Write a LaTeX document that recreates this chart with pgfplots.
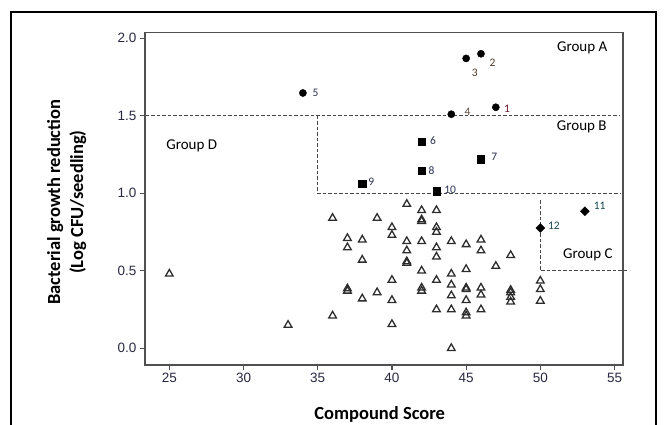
\documentclass[border=0pt]{standalone}
\usepackage{pgfplots}
\pgfplotsset{compat=1.18}
\usepackage{fontspec}
\setmainfont{Carlito}
\newfontfamily\tickfont{Liberation Sans}
\definecolor{axisgray}{RGB}{80,80,80}
\definecolor{ticktext}{RGB}{40,40,65}
\definecolor{dashgray}{RGB}{70,70,70}
\definecolor{trigray}{RGB}{45,45,45}
\definecolor{numdark}{RGB}{40,50,80}
\definecolor{numred}{RGB}{110,20,40}
\definecolor{numbrown}{RGB}{75,55,40}
\definecolor{numteal}{RGB}{25,70,75}

\pgfplotstableread{
x y
25 0.48
33 0.15
36 0.84
36 0.21
37 0.71
37 0.65
37 0.385
37 0.37
38 0.70
38 0.57
38 0.32
39 0.84
39 0.36
40 0.78
40 0.73
40 0.44
40 0.31
40 0.155
41 0.93
41 0.69
41 0.63
41 0.56
41 0.55
42 0.89
42 0.83
42 0.82
42 0.69
42 0.50
42 0.39
42 0.37
43 0.89
43 0.78
43 0.75
43 0.65
43 0.59
43 0.44
43 0.25
44 0.69
44 0.48
44 0.41
44 0.34
44 0.25
44 0.00
45 0.67
45 0.51
45 0.39
45 0.38
45 0.31
45 0.23
45 0.21
46 0.70
46 0.63
46 0.39
46 0.345
46 0.25
47 0.53
48 0.60
48 0.375
48 0.36
48 0.33
48 0.30
50 0.435
50 0.38
50 0.305
}\others

\begin{document}
\begin{tikzpicture}
\useasboundingbox (0,0) rectangle (664pt,425pt);
\draw[line width=1.5pt, black] (11pt,-2pt) -- (11pt,413pt) -- (656pt,413pt) -- (656pt,-2pt);
\begin{axis}[
  at={(145pt,60pt)}, anchor=south west,
  scale only axis, width=478pt, height=332.3pt,
  xmin=23.36, xmax=55.57, ymin=-0.108, ymax=2.036,
  xtick={25,30,...,55}, ytick={0,0.5,1,1.5,2},
  tick pos=left, tick align=outside,
  major tick length=5pt,
  axis line style={axisgray, line width=1.4pt},
  tick style={axisgray, line width=1.2pt},
  /pgf/number format/assume math mode=true,
  ticklabel style={font=\tickfont\fontsize{13.5}{15}\selectfont, text=ticktext},
  yticklabel style={/pgf/number format/.cd, fixed, fixed zerofill, precision=1},
  xlabel={Compound Score},
  xlabel style={font=\fontsize{18.5}{22}\selectfont\bfseries, at={(axis description cs:0.491,-0.1655)}, anchor=base},
  ylabel={Bacterial growth reduction\\(Log CFU/seedling)},
  ylabel style={font=\fontsize{18.5}{23}\selectfont\bfseries, align=center, at={(axis description cs:-0.164,0.49)}, anchor=center},
  clip=false,
]
% group boundaries
\addplot[dashgray, line width=0.9pt, dash pattern=on 3.5pt off 2pt, forget plot] coordinates {(23.4,1.5) (55.3,1.5)};
\addplot[dashgray, line width=0.9pt, dash pattern=on 3.5pt off 2pt, forget plot] coordinates {(35,1.5) (35,1.0) (55.45,1.0)};
\addplot[dashgray, line width=0.9pt, dash pattern=on 3.5pt off 2pt, forget plot] coordinates {(50,0.956) (50,0.5) (55.9,0.5)};
% other compounds
\addplot[only marks, mark=triangle, mark size=4.4pt, mark options={draw=trigray, line width=1.3pt}] table[x=x,y=y] {\others};
% group A
\addplot[only marks, mark=*, mark size=3.6pt, black] coordinates {(47,1.555) (46,1.90) (45,1.87) (44,1.51) (34,1.647)};
% group B
\addplot[only marks, mark=square*, mark size=3.6pt, black] coordinates {(42,1.335) (46,1.22) (42,1.146) (38,1.064) (43,1.013)};
% group C
\addplot[only marks, mark=square*, mark size=3.2pt, mark options={rotate=45}, black] coordinates {(53,0.884) (50,0.776)};
% labels
\begin{scope}[every node/.style={font=\fontsize{11.5}{12}\selectfont, inner sep=0pt}]
\node[numred] at (axis cs:47.75,1.546) {1};
\node[numbrown] at (axis cs:46.78,1.843) {2};
\node[numbrown] at (axis cs:45.58,1.774) {3};
\node[numbrown!70!gray] at (axis cs:45.1,1.523) {4};
\node[numdark] at (axis cs:34.85,1.649) {5};
\node[numdark] at (axis cs:42.77,1.337) {6};
\node[numdark] at (axis cs:46.9,1.232) {7};
\node[numdark] at (axis cs:42.66,1.146) {8};
\node[numdark] at (axis cs:38.61,1.073) {9};
\node[numdark] at (axis cs:43.92,1.021) {10};
\node[numteal] at (axis cs:54.0,0.918) {11};
\node[numteal] at (axis cs:50.91,0.791) {12};
\end{scope}
\begin{scope}[every node/.style={font=\fontsize{15}{18}\selectfont, anchor=base, inner sep=0pt}]
\node at (axis cs:52.82,1.914) {Group A};
\node at (axis cs:52.79,1.402) {Group B};
\node at (axis cs:53.20,0.581) {Group C};
\node at (axis cs:26.51,1.284) {Group D};
\end{scope}
\end{axis}
\end{tikzpicture}
\end{document}
